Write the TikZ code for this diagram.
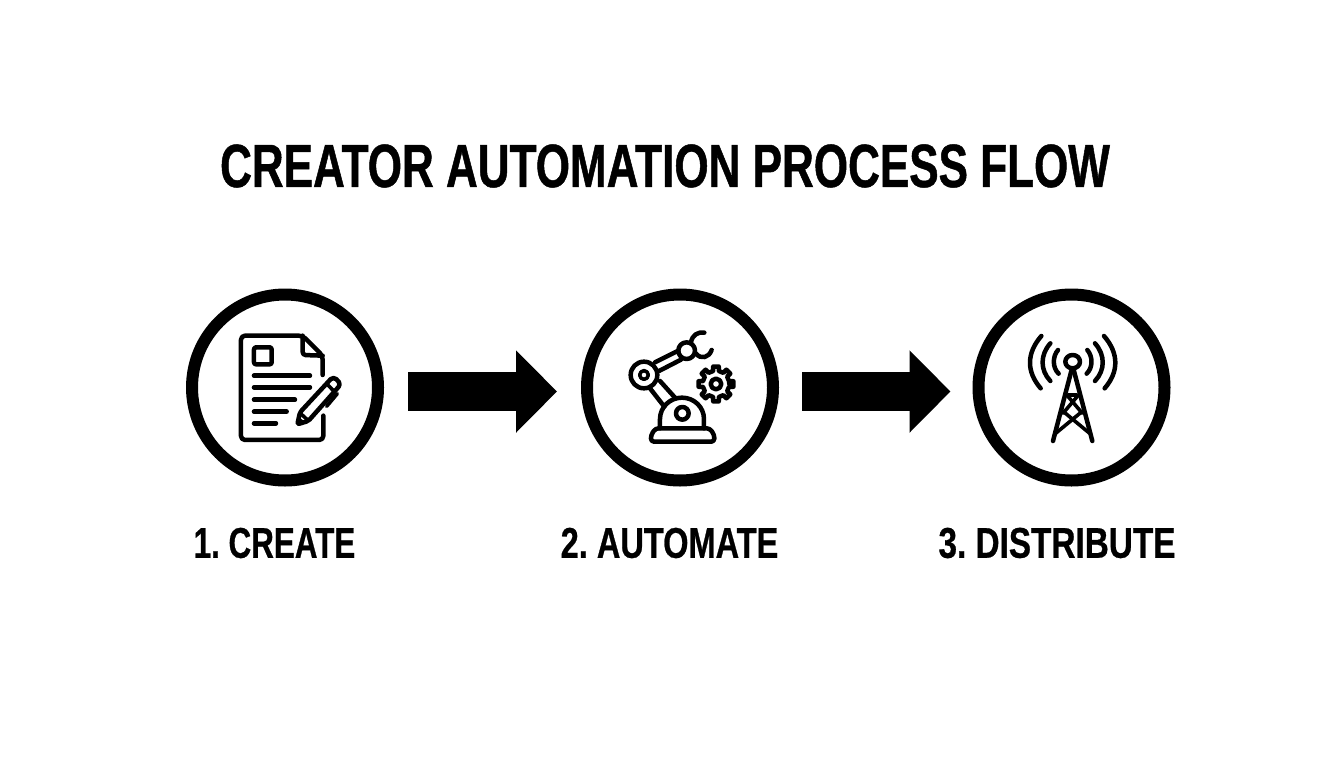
\documentclass[tikz,border=0pt]{standalone}
\usepackage{fontspec}
\usetikzlibrary{arrows.meta}
\newfontfamily\titlefont[FakeStretch=0.722,FakeBold=0.8]{Liberation Sans Bold}
\newfontfamily\labelfontA[FakeStretch=0.73,FakeBold=0.6]{Liberation Sans Bold}
\newfontfamily\labelfontB[FakeStretch=0.757,FakeBold=0.6]{Liberation Sans Bold}
\newfontfamily\labelfontC[FakeStretch=0.775,FakeBold=0.6]{Liberation Sans Bold}
\frenchspacing
\tikzset{
  ring/.style={circle,draw=black,line width=12pt,minimum size=186pt,inner sep=0pt,fill=white},
  flow/.style={draw=black,line width=39pt,-{Triangle[length=41pt,width=80pt]}},
  ic/.style={draw=black,line width=4.5pt,line cap=round,line join=round,fill=none},
  thin ic/.style={draw=black,line width=3.6pt,line cap=round,line join=round,fill=none},
  heading/.style={inner sep=0pt,text=black,font=\titlefont\fontsize{61pt}{61pt}\selectfont},
  steplabel/.style={inner sep=0pt,text=black,font=\fontsize{43pt}{43pt}\selectfont},
  zoomA/.style={shift={(180pt,-285pt)},x=0.3333pt,y=-0.3333pt},
  zoomB/.style={shift={(575pt,-285pt)},x=0.3333pt,y=-0.3333pt},
  zoomC/.style={shift={(968pt,-285pt)},x=0.3333pt,y=-0.3333pt},
}
\begin{document}
\begin{tikzpicture}[x=1pt,y=-1pt]
\useasboundingbox[fill=white] (0,0) rectangle (1344,768);
\node[heading] (title) at (665,166) {CREATOR AUTOMATION PROCESS FLOW};
\node[ring] (c1) at (285,387.5) {};
\node[ring] (c2) at (680,387.5) {};
\node[ring] (c3) at (1071.5,387.5) {};
\draw[flow,shorten <=24pt,shorten >=24pt] ([yshift=-4pt]c1.east) -- ([yshift=-4pt]c2.west);
\draw[flow,shorten <=23pt,shorten >=22pt] ([yshift=-4pt]c2.east) -- ([yshift=-4pt]c3.west);
\node[steplabel] (l1) at (274.5,543) {\labelfontA 1. CREATE};
\node[steplabel] (l2) at (669.5,543) {\labelfontB 2. AUTOMATE};
\node[steplabel] (l3) at (1057,543) {\labelfontC 3. DISTRIBUTE};
% document icon
\begin{scope}[zoomA]
\draw[ic,rounded corners=4pt] (428,270) -- (428,212) -- (368,152) -- (183,152) -- (183,465) -- (430,465) -- (430,392);
\draw[ic,rounded corners=3pt] (368,152) -- (368,210) -- (428,212);
\draw[ic,rounded corners=2pt] (222,187) rectangle (275,238);
\draw[ic] (222,272) -- (390,272);
\draw[ic] (222,307) -- (390,307);
\draw[ic] (222,344) -- (345,344);
\draw[ic] (222,380) -- (320,380);
\draw[ic] (222,415) -- (288,415);
\draw[ic,rounded corners=2pt] (352,418) -- (360,382) -- (448,287) .. controls (456,278) and (465,278) .. (473,287) .. controls (480,295) and (478,303) .. (472,310) -- (385,408) -- cycle;
\draw[thin ic] (440,296) -- (463,320);
\draw[thin ic] (360,384) -- (385,407);
\draw[thin ic] (472,326) -- (440,364);
\fill (352,418) -- (357,395) -- (375,412) -- cycle;
\end{scope}
% robot icon
\begin{scope}[zoomB]
\draw[ic,rounded corners=3pt] (228,470) -- (228,450) -- (242,430) -- (404,430) -- (418,450) -- (418,470) -- cycle;
\draw[ic] (255,430) -- (255,402) arc[start angle=180,end angle=360,x radius=66,y radius=64] -- (387,430);
\draw[ic] (322,385) circle[radius=19];
\draw[ic] (207,270) circle[radius=40];
\draw[thin ic] (207,270) circle[radius=13];
\draw[ic] (225,310) -- (268,365);
\draw[ic] (255,288) -- (300,338);
\draw[ic] (240,232) -- (310,197);
\draw[ic] (252,258) -- (318,224);
\draw[ic] (335,197) circle[radius=25];
\draw[ic] (348,172) .. controls (352,150) and (368,140) .. (388,143);
\draw[ic] (362,205) .. controls (378,225) and (402,218) .. (410,195);
\begin{scope}[shift={(423,297)}]
\draw[ic] (0:40) \foreach \a in {0,45,...,315}{
  -- (\a-12:40) -- (\a-9:53) -- (\a+9:53) -- (\a+12:40) -- (\a+33:40)
} -- cycle;
\draw[ic] (0,0) circle[radius=16];
\end{scope}
\end{scope}
% tower icon
\begin{scope}[zoomC]
\draw[ic] (314,230) circle[x radius=22,y radius=20];
\draw[ic] (270,195) .. controls (253,215) and (253,248) .. (272,266);
\draw[ic] (247,175) .. controls (216,210) and (216,255) .. (247,288);
\draw[ic] (220,153) .. controls (175,205) and (175,260) .. (218,310);
\draw[ic] (358,195) .. controls (375,215) and (375,248) .. (356,266);
\draw[ic] (381,175) .. controls (412,210) and (412,255) .. (381,288);
\draw[ic] (408,153) .. controls (453,205) and (453,260) .. (410,310);
\draw[ic] (310,258) -- (255,468);
\draw[ic] (318,258) -- (373,468);
\draw[thin ic] (302,330) -- (326,330);
\draw[thin ic] (299,333) -- (343,385);
\draw[thin ic] (329,333) -- (285,385);
\draw[thin ic] (284,378) -- (365,445);
\draw[thin ic] (344,378) -- (263,445);
\end{scope}
\end{tikzpicture}
\end{document}
